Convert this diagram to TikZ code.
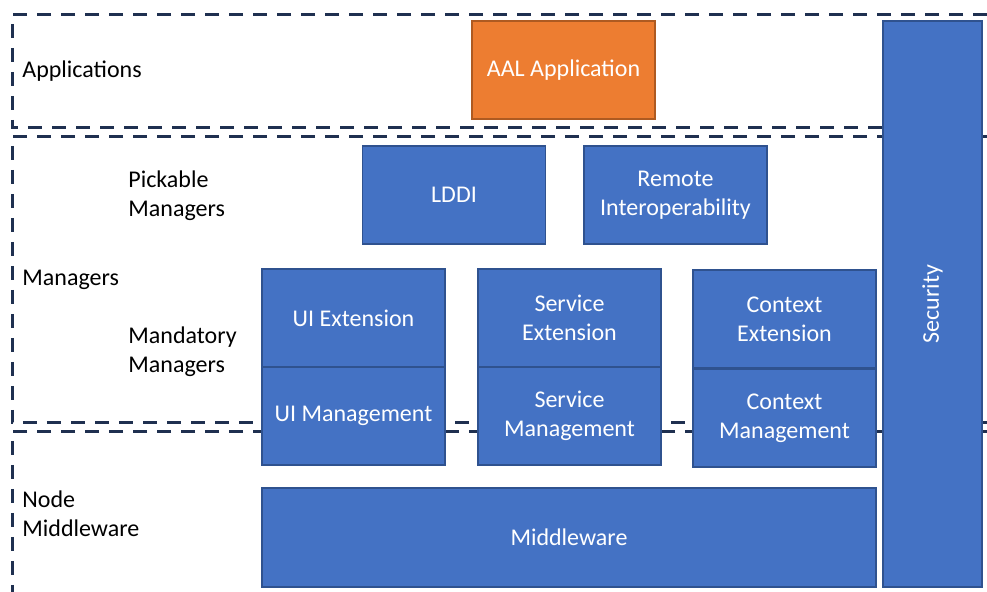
\documentclass[tikz,border=0pt]{standalone}
\usepackage{fontspec}
\setmainfont{Carlito}
\definecolor{boxblue}{HTML}{4472C4}
\definecolor{boxedge}{HTML}{2F528F}
\definecolor{appfill}{HTML}{ED7D31}
\definecolor{appedge}{HTML}{AE5A21}
\definecolor{layerline}{HTML}{1F3050}
\tikzset{
  layer/.style={draw=layerline, line width=1.5pt, dash pattern=on 7pt off 5pt},
  block/.style={draw=boxedge, fill=boxblue, line width=0.6pt, text=white, align=center,
    inner sep=0pt, minimum width=91.5pt, minimum height=49pt,
    font=\fontsize{12}{14.5}\selectfont},
  appblock/.style={block, draw=appedge, fill=appfill},
  tag/.style={anchor=west, align=left, inner sep=0pt, font=\fontsize{12}{14.5}\selectfont}
}
\begin{document}
\begin{tikzpicture}[x=0.5pt, y=-0.5pt]
  \useasboundingbox (0,0) rectangle (987,592);
  % layers
  \draw[layer] (987,15) -- (12,15) -- (12,128) -- (987,128);
  \draw[layer] (987,137) -- (12,137) -- (12,423) -- (987,423);
  \draw[layer] (987,432) -- (12,432) -- (12,600);
  % layer labels
  \node[tag] (lapps) at (22,71) {Applications};
  \node[tag] (lpick) at (128,196) {Pickable\\Managers};
  \node[tag] (lmgrs) at (22,280) {Managers};
  \node[tag] (lmand) at (128,352) {Mandatory\\Managers};
  \node[tag] (lnode) at (22,514) {Node\\Middleware};
  % blocks
  \node[appblock] (app) at (563.5,70) {AAL Application};
  \node[block] (lddi) at (454,195) {LDDI};
  \node[block] (remote) at (675.5,195) {Remote\\Interoperability};
  \node[block] (uiext) at (353.5,318) {UI Extension};
  \node[block] (uimgmt) at (353.5,416) {UI Management};
  \node[block] (srvext) at (569.5,318) {Service\\Extension};
  \node[block] (srvmgmt) at (569.5,416) {Service\\Management};
  \node[block] (ctxext) at (784.5,319) {Context\\Extension};
  \node[block] (ctxmgmt) at (784.5,418) {Context\\Management};
  \node[block, minimum width=307pt, minimum height=49.5pt] (mw) at (569,537.5) {Middleware};
  \node[block, rotate=90, minimum width=283pt, minimum height=49.5pt] (security) at (932.5,304) {Security};
\end{tikzpicture}
\end{document}
